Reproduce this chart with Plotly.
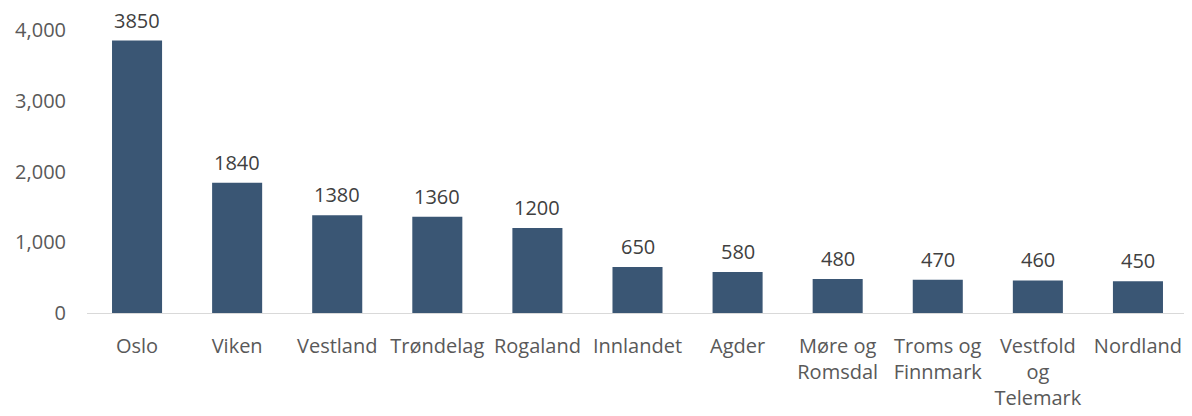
import plotly.graph_objects as go

categories = ["Oslo", "Viken", "Vestland", "Trøndelag", "Rogaland", "Innlandet",
              "Agder", "Møre og<br>Romsdal", "Troms og<br>Finnmark",
              "Vestfold<br>og<br>Telemark", "Nordland"]
values = [3850, 1840, 1380, 1360, 1200, 650, 580, 480, 470, 460, 450]
y_ticks = [0, 1000, 2000, 3000, 4000]

font_family = "Open Sans, Liberation Sans, sans-serif"
text_color = "#595959"

fig = go.Figure(go.Bar(
    x=categories,
    y=values,
    marker=dict(color="#3A5674", line=dict(width=0)),
    cliponaxis=False,
))

for c, v in zip(categories, values):
    fig.add_annotation(
        x=c, y=v, text=str(v), showarrow=False,
        yanchor="bottom", yshift=5,
        font=dict(size=20, color="#404040", family=font_family),
    )

fig.update_layout(
    width=1184, height=408,
    margin=dict(l=79, r=4, t=22, b=103),
    paper_bgcolor="white", plot_bgcolor="white",
    bargap=0.5,
    showlegend=False,
    font=dict(family=font_family, size=20, color=text_color),
)
fig.update_xaxes(
    automargin=False,
    showline=True, linecolor="#d9d9d9", linewidth=1,
    showgrid=False, ticks="", ticklabelstandoff=15,
    tickfont=dict(size=20, color=text_color),
)
fig.update_yaxes(
    automargin=False,
    range=[0, 4000], tickvals=y_ticks, tickformat=",",
    showgrid=False, zeroline=False, showline=False, ticks="",
    ticklabelstandoff=20,
    tickfont=dict(size=20, color=text_color),
)

fig.write_html("out.html")
